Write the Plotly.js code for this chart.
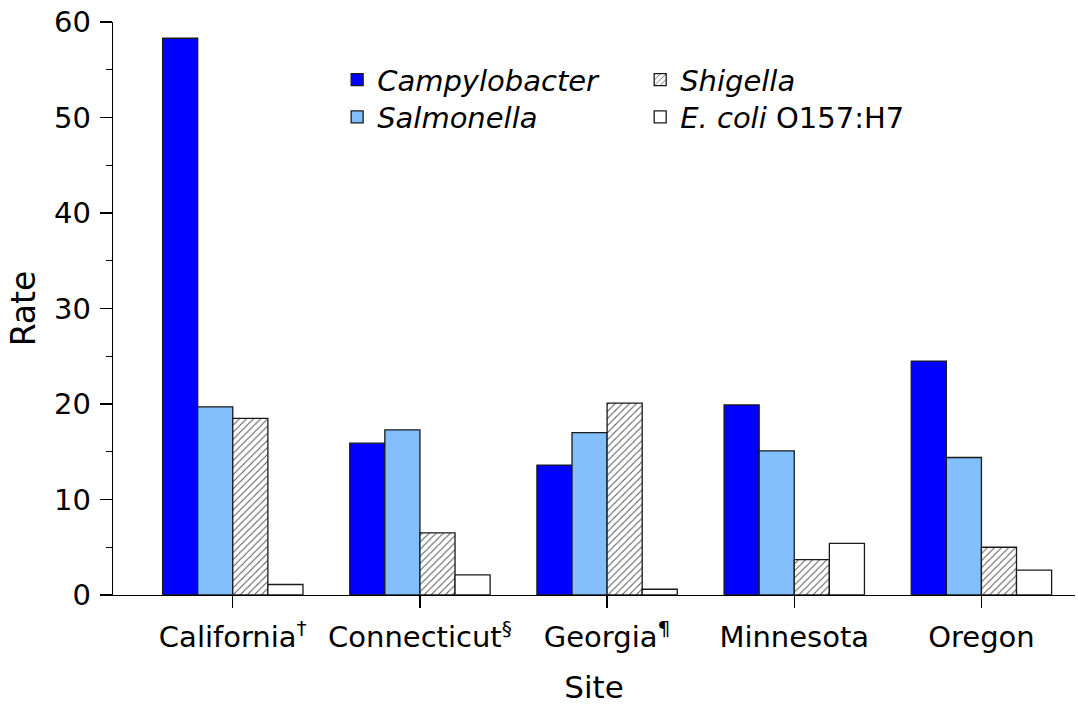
<!DOCTYPE html>
<html>
<head>
<meta charset="utf-8">
<script src="https://cdn.plot.ly/plotly-3.0.1.min.js"></script>
<style>html,body{margin:0;padding:0;background:#fff;}#chart{width:1078px;height:705px;}</style>
</head>
<body>
<div id="chart"></div>
<script>
const sites = ["California<sup>†</sup>", "Connecticut<sup>§</sup>", "Georgia<sup>¶</sup>", "Minnesota", "Oregon"];
const campylobacter = [58.3, 15.9, 13.6, 19.9, 24.5];
const salmonella = [19.7, 17.3, 17.0, 15.1, 14.4];
const shigella = [18.5, 6.5, 20.1, 3.7, 5.0];
const ecoli = [1.1, 2.1, 0.6, 5.4, 2.6];
const seriesNames = ["<i>Campylobacter</i>", "<i>Salmonella</i>", "<i>Shigella</i>", "<i>E. coli</i> O157:H7"];

const FONT = "DejaVu Sans, Liberation Sans, Arial, sans-serif";
const outline = {color: "#1a1a1a", width: 1.3};

const traces = [
  {type: "bar", x: sites, y: campylobacter, name: seriesNames[0], legend: "legend",
   marker: {color: "#0000ff", line: outline}},
  {type: "bar", x: sites, y: salmonella, name: seriesNames[1], legend: "legend2",
   marker: {color: "#82bffc", line: outline}},
  {type: "bar", x: sites, y: shigella, name: seriesNames[2], legend: "legend3",
   marker: {color: "#ffffff", line: outline,
            pattern: {shape: "/", fgcolor: "#555555", bgcolor: "#ffffff", size: 5, solidity: 0.2}}},
  {type: "bar", x: sites, y: ecoli, name: seriesNames[3], legend: "legend4",
   marker: {color: "#ffffff", line: outline}}
];

const legendCommon = {
  xanchor: "left", yanchor: "middle", bgcolor: "rgba(0,0,0,0)", borderwidth: 0,
  font: {family: FONT, size: 29, color: "#000"}, traceorder: "normal", tracegroupgap: 0
};
const row1 = 0.899, row2 = 0.834, col1 = 0.233, col2 = 0.548;

const layout = {
  width: 1078, height: 705,
  margin: {l: 113, r: 3, t: 22, b: 110},
  paper_bgcolor: "#ffffff", plot_bgcolor: "#ffffff",
  barmode: "group", bargap: 0.25, bargroupgap: 0,
  font: {family: FONT, color: "#000"},
  showlegend: true,
  legend: Object.assign({x: col1, y: row1}, legendCommon),
  legend2: Object.assign({x: col1, y: row2}, legendCommon),
  legend3: Object.assign({x: col2, y: row1}, legendCommon),
  legend4: Object.assign({x: col2, y: row2}, legendCommon),
  xaxis: {
    type: "category", range: [-0.64, 4.5],
    showline: true, linecolor: "#000", linewidth: 1.2,
    ticks: "outside", ticklen: 12, tickcolor: "#000", tickwidth: 1.2,
    ticklabelstandoff: 4,
    showgrid: false, zeroline: false,
    tickfont: {family: FONT, size: 29, color: "#000"},
    title: {text: "Site", font: {family: FONT, size: 31, color: "#000"}, standoff: 26}
  },
  yaxis: {
    range: [0, 60], dtick: 10, tick0: 0,
    showline: true, linecolor: "#000", linewidth: 1.2,
    ticks: "outside", ticklen: 12, tickcolor: "#000", tickwidth: 1.2,
    ticklabelstandoff: 3,
    minor: {dtick: 5, ticks: "outside", ticklen: 6, tickcolor: "#000", tickwidth: 1.2, showgrid: false},
    showgrid: false, zeroline: false,
    tickfont: {family: FONT, size: 29, color: "#000"},
    title: {text: "Rate", font: {family: FONT, size: 33, color: "#000"}, standoff: 8}
  }
};

Plotly.newPlot("chart", traces, layout, {displayModeBar: false, staticPlot: true});
</script>
</body>
</html>
